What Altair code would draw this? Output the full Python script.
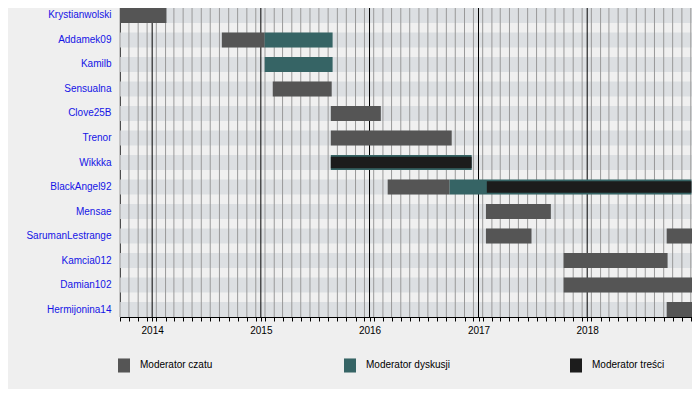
import altair as alt
import pandas as pd

# ---- data ----
names = ["Krystianwolski", "Addamek09", "Kamilb", "Sensualna", "Clove25B", "Trenor",
         "Wikkka", "BlackAngel92", "Mensae", "SarumanLestrange", "Kamcia012",
         "Damian102", "Hermijonina14"]

roles = ["Moderator czatu", "Moderator dyskusji", "Moderator treści"]
role_colors = ["#555555", "#366465", "#1c1c1c"]

seg_name = ["Krystianwolski", "Addamek09", "Addamek09", "Kamilb", "Sensualna", "Clove25B",
            "Trenor", "Wikkka", "Wikkka", "BlackAngel92", "BlackAngel92", "BlackAngel92",
            "Mensae", "SarumanLestrange", "SarumanLestrange", "Kamcia012", "Damian102",
            "Hermijonina14"]
seg_role = ["Moderator czatu", "Moderator czatu", "Moderator dyskusji", "Moderator dyskusji",
            "Moderator czatu", "Moderator czatu", "Moderator czatu", "Moderator dyskusji",
            "Moderator treści", "Moderator czatu", "Moderator dyskusji", "Moderator treści",
            "Moderator czatu", "Moderator czatu", "Moderator czatu", "Moderator czatu",
            "Moderator czatu", "Moderator czatu"]
seg_start = ["2013-06-01", "2014-08-23", "2015-01-14", "2015-01-14", "2015-02-10", "2015-08-24",
             "2015-08-24", "2015-08-24", "2015-08-24", "2016-03-02", "2016-09-26", "2017-01-29",
             "2017-01-26", "2017-01-26", "2018-09-25", "2017-10-14", "2017-10-14",
             "2018-09-25"]
seg_end = ["2014-02-18", "2015-01-14", "2015-08-30", "2015-08-30", "2015-08-27", "2016-02-08",
           "2016-10-03", "2016-12-09", "2016-12-09", "2016-09-26", "2018-12-17", "2018-12-17",
           "2017-09-01", "2017-06-28", "2019-06-01", "2018-09-28", "2019-06-01",
           "2019-06-01"]

domain_start = "2013-09-15"
domain_end = "2018-12-19"

# ---- derived tables ----
def ms(s):
    return int(pd.Timestamp(s, tz="UTC").value // 10**6)

segs = pd.DataFrame({"name": seg_name, "role": seg_role, "start": seg_start, "end": seg_end})
full = segs[segs.role != "Moderator treści"]
thin = segs[segs.role == "Moderator treści"]

stripes = pd.DataFrame({"name": names, "start": domain_start, "end": domain_end})

month_lines = [d.strftime("%Y-%m-%d") for d in pd.date_range("2013-09-01", "2019-01-01", freq="MS") + pd.Timedelta(days=14)]
month_lines = [d for d in month_lines if domain_start <= d <= domain_end]
year_lines = ["2014-01-01", "2015-01-01", "2016-01-01", "2017-01-01", "2018-01-01", "2019-01-01"]
tick_values = sorted([ms(d) for d in month_lines + year_lines])

xscale = alt.Scale(type="utc", domain=[ms(domain_start), ms(domain_end)])
yscale = alt.Scale(domain=names, paddingInner=0.39, paddingOuter=0)

font = "Liberation Sans"

xaxis = alt.Axis(values=tick_values, title=None, grid=False, tickSize=4, tickColor="black",
                 domainColor="black", labelColor="black", labelFontSize=10, labelFont=font,
                 labelPadding=4, labelOverlap=False, labelFlush=False,
                 labelExpr="utcmonth(datum.value) == 0 && utcdate(datum.value) == 1 ? utcFormat(datum.value, '%Y') : ''")
yaxis = alt.Axis(title=None, ticks=False, grid=False, domainColor="black", labelColor="#1414e6",
                 labelFontSize=10, labelFont=font, labelPadding=9)

base_x = alt.X("start:T", scale=xscale, axis=xaxis)
base_y = alt.Y("name:N", scale=yscale, sort=names, axis=yaxis)

stripe_layer = alt.Chart(stripes).mark_bar(color="#dcdfe2", clip=True).encode(
    x=base_x, x2="end:T", y=base_y)

month_layer = alt.Chart(pd.DataFrame({"d": month_lines})).mark_rule(color="#999999", strokeWidth=1).encode(
    x=alt.X("d:T", scale=xscale, axis=xaxis))
year_layer = alt.Chart(pd.DataFrame({"d": [d for d in year_lines if d <= domain_end]})).mark_rule(
    color="black", strokeWidth=1).encode(x=alt.X("d:T", scale=xscale, axis=xaxis))

color = alt.Color("role:N", scale=alt.Scale(domain=roles, range=role_colors),
                  legend=alt.Legend(title=None, orient="none", legendX=-2, legendY=351,
                                    direction="horizontal", columns=3, gridAlign="all",
                                    columnPadding=120, symbolType="M-1,-1.17H1V1.17H-1Z",
                                    symbolSize=144, symbolStrokeWidth=0, symbolOpacity=1,
                                    labelFontSize=10, labelFont=font, labelColor="black",
                                    labelOffset=10, padding=0))

full_layer = alt.Chart(full).mark_bar(clip=True, opacity=1).encode(
    x=base_x, x2="end:T", y=base_y, color=color)
thin_layer = alt.Chart(thin).mark_bar(clip=True, opacity=1, height=alt.RelativeBandSize(0.77)).encode(
    x=base_x, x2="end:T", y=base_y, color=color)

chart = alt.layer(stripe_layer, month_layer, year_layer, full_layer, thin_layer).properties(
    width=572, height=309,
    autosize=alt.AutoSizeParams(type="none"),
    padding={"left": 112, "top": 0, "right": 0, "bottom": 72},
    background="#efefef",
).configure_view(fill="#f0f0f0", strokeWidth=0)

chart.save("out.html", embed_options={"renderer": "svg", "actions": False})
